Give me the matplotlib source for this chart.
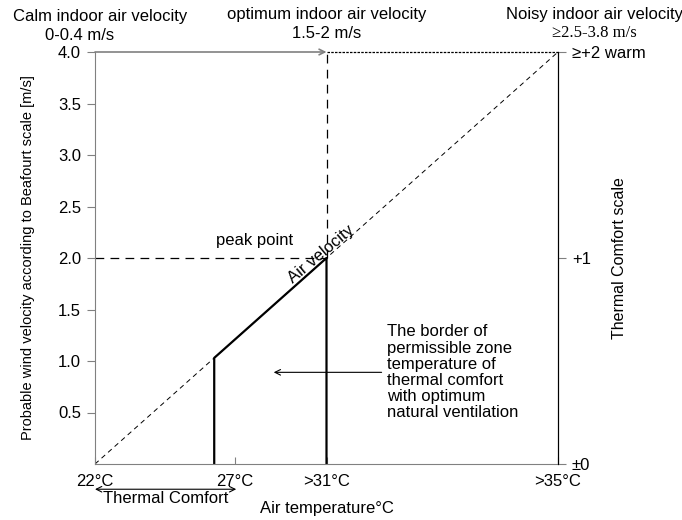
import matplotlib.pyplot as plt

plt.rcParams['font.family'] = ['Liberation Sans', 'DejaVu Sans']

# x positions are on a 0-4 scale so the diagonal meets the corners
x_tick_pos = [0, 1.21, 2.0, 4.0]
x_tick_labels = ['22°C', '27°C', '>31°C', '>35°C']
y_ticks = [0.5, 1.0, 1.5, 2.0, 2.5, 3.0, 3.5, 4.0]
right_ticks = [0, 2, 4]
right_labels = ['±0', '+1', '≥+2 warm']

# comfort border (solid)
border_x = [1.03, 1.03, 2.0, 2.0]
border_y = [0, 1.03, 2.0, 0]
peak_x, peak_y = 2.0, 2.0
x_max, y_max = 4.0, 4.0


def main():
    fig = plt.figure(figsize=(6.82, 5.2), dpi=100)
    ax = fig.add_axes([95 / 682, 56 / 520, 463 / 682, 412 / 520])
    ax.set_xlim(0, x_max)
    ax.set_ylim(0, y_max)

    gray = '#808080'
    ax.spines['top'].set_visible(False)
    ax.spines['right'].set_color('black')
    ax.spines['left'].set_color(gray)
    ax.spines['bottom'].set_color(gray)

    # diagonal
    ax.plot([0, x_max], [0, y_max], color='black', lw=0.7, ls=(0, (5, 4)))
    # peak guides
    ax.plot([0, peak_x], [peak_y, peak_y], color='black', lw=0.9, ls=(0, (7, 5)))
    ax.plot([peak_x, peak_x], [peak_y, y_max], color='black', lw=0.9, ls=(0, (7, 5)))
    ax.plot([peak_x, x_max], [y_max, y_max], color='black', lw=0.9, ls=(0, (2, 1)),
            clip_on=False)
    ax.annotate('', xy=(peak_x, y_max), xytext=(0, y_max),
                arrowprops=dict(arrowstyle='->', color=gray, lw=1.2,
                                shrinkA=0, shrinkB=0), annotation_clip=False)
    # border
    ax.plot(border_x, border_y, color='black', lw=1.6)

    ax.set_xticks(x_tick_pos)
    ax.set_xticklabels(x_tick_labels, fontsize=12)
    ax.tick_params(axis='x', direction='in', length=5, color=gray, pad=7)
    ax.set_yticks(y_ticks)
    ax.set_yticklabels(['%.1f' % v for v in y_ticks], fontsize=12)
    ax.tick_params(axis='y', direction='out', length=6, color=gray, pad=4)

    ax2 = ax.twinx()
    ax2.set_ylim(0, y_max)
    for s in ['top', 'left', 'bottom']:
        ax2.spines[s].set_visible(False)
    ax2.spines['right'].set_color('black')
    ax2.set_yticks(right_ticks)
    ax2.set_yticklabels(right_labels, fontsize=12)
    ax2.tick_params(axis='y', direction='out', length=6, color=gray, pad=4)
    ax2.set_ylabel('Thermal Comfort scale', fontsize=11.5)
    ax2.yaxis.set_label_coords((612 - 95) / 463, 0.5)

    ax.set_ylabel('Probable wind velocity according to Beafourt scale [m/s]',
                  fontsize=10.5)
    ax.yaxis.set_label_coords(-0.13, 0.5)
    ax.text(0.5, -(508 - 464) / 412, 'Air temperature°C', fontsize=12,
            ha='center', va='center', transform=ax.transAxes)

    ax.text(1.38, 2.1, 'peak point', fontsize=12, ha='center', va='bottom')
    ax.text(1.95, 2.04, 'Air velocity', fontsize=12, ha='center', va='center',
            rotation=40)
    ax.annotate('', xy=(1.52, 0.89), xytext=(2.5, 0.89),
                arrowprops=dict(arrowstyle='->', color='black', lw=0.8))
    ax.text(2.52, 0.89, 'The border of\npermissible zone\ntemperature of\n'
            'thermal comfort\nwith optimum\nnatural ventilation',
            fontsize=12, ha='left', va='center', linespacing=1.1)

    ax.annotate('', xy=(0, -0.245), xytext=(1.22, -0.245), xycoords='data',
                arrowprops=dict(arrowstyle='<->', color='black', lw=0.8,
                                shrinkA=0, shrinkB=0),
                annotation_clip=False)
    ax.text(0.61, -0.335, 'Thermal Comfort', fontsize=12, ha='center',
            va='center', clip_on=False)

    fig.text(100 / 682, 1 - 17 / 520, 'Calm indoor air velocity', fontsize=12,
             ha='center', va='center')
    fig.text(80 / 682, 1 - 35 / 520, '0-0.4 m/s', fontsize=12,
             ha='center', va='center')
    fig.text(327 / 682, 1 - 15 / 520, 'optimum indoor air velocity', fontsize=12,
             ha='center', va='center')
    fig.text(327 / 682, 1 - 33 / 520, '1.5-2 m/s', fontsize=12,
             ha='center', va='center')
    fig.text(594 / 682, 1 - 15 / 520, 'Noisy indoor air velocity', fontsize=12,
             ha='center', va='center')
    fig.text(594 / 682, 1 - 33 / 520, '≥2.5-3.8 m/s', fontsize=12,
             family=['Liberation Serif', 'DejaVu Serif'], ha='center', va='center')

    fig.savefig('out.png', dpi=100)


main()
